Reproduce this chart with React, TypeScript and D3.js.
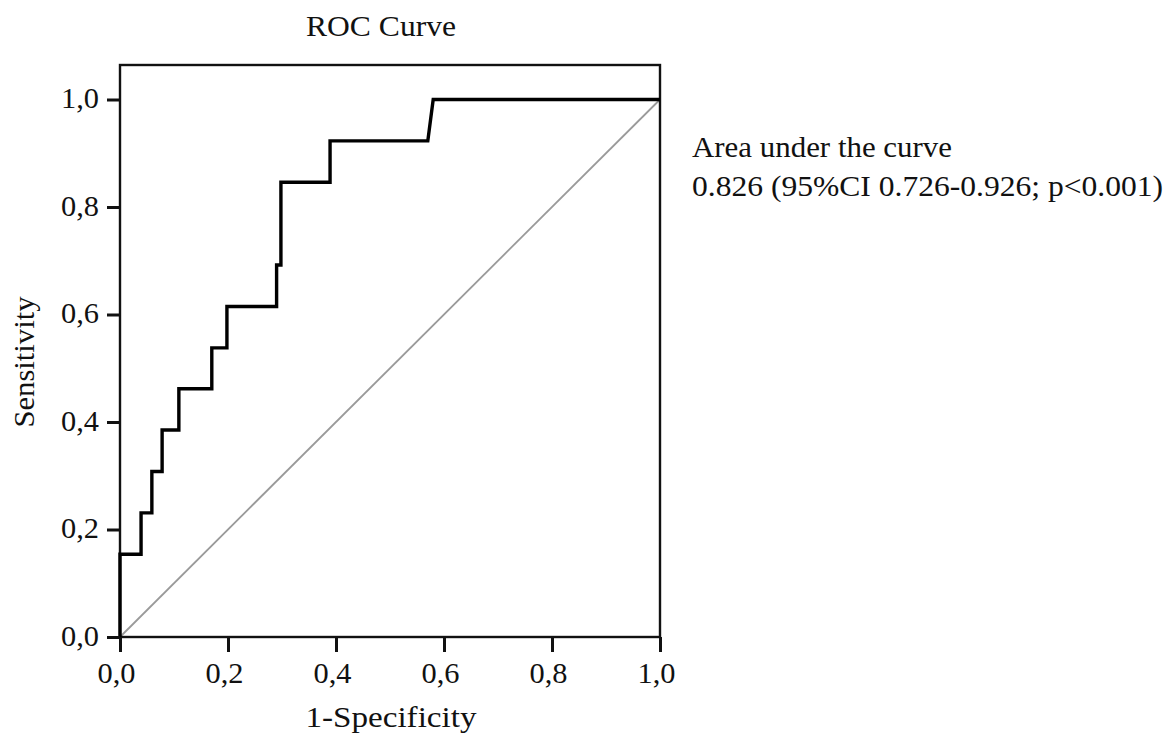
import React, { useEffect, useRef } from 'react';
import * as d3 from 'd3';

// ROC points: 1-specificity, sensitivity
const fpr = [0, 0, 0.039, 0.039, 0.059, 0.059, 0.078, 0.078, 0.109, 0.109, 0.17, 0.17, 0.198, 0.198, 0.29, 0.29, 0.298, 0.298, 0.389, 0.389, 0.57, 0.58, 1];
const tpr = [0, 0.154, 0.154, 0.231, 0.231, 0.308, 0.308, 0.385, 0.385, 0.462, 0.462, 0.538, 0.538, 0.615, 0.615, 0.692, 0.692, 0.846, 0.846, 0.923, 0.923, 1, 1];

const xTicks = [0, 0.2, 0.4, 0.6, 0.8, 1];
const yTicks = [0, 0.2, 0.4, 0.6, 0.8, 1];

const title = 'ROC Curve';
const xLabel = '1-Specificity';
const yLabel = 'Sensitivity';
const aucLines = ['Area under the curve', '0.826 (95%CI 0.726-0.926; p<0.001)'];

const fmt = (v: number) => d3.format('.1f')(v).replace('.', ',');

function App() {
  const ref = useRef<SVGSVGElement>(null);

  useEffect(() => {
    const svg = d3.select(ref.current);
    svg.selectAll('*').remove();

    const font = "'Liberation Serif', 'Times New Roman', Times, serif";
    const left = 120, right = 660, top = 65, bottom = 637;

    const x = d3.scaleLinear().domain([0, 1]).range([left, right]);
    const y = d3.scaleLinear().domain([0, 1]).range([bottom, bottom - 537.5]);

    // diagonal reference
    svg.append('line')
      .attr('x1', x(0)).attr('y1', y(0))
      .attr('x2', x(1)).attr('y2', y(1))
      .attr('stroke', '#9a9a9a')
      .attr('stroke-width', 1.8);

    // frame
    svg.append('rect')
      .attr('x', left).attr('y', top)
      .attr('width', right - left).attr('height', bottom - top)
      .attr('fill', 'none')
      .attr('stroke', '#111')
      .attr('stroke-width', 2.4);

    // roc curve
    const pts = fpr.map((f, i) => [f, tpr[i]] as [number, number]);
    const line = d3.line<[number, number]>()
      .x(d => x(d[0]))
      .y(d => y(d[1]));
    svg.append('path')
      .attr('d', line(pts))
      .attr('fill', 'none')
      .attr('stroke', '#000')
      .attr('stroke-width', 3.4);

    // y axis
    const yAxis = svg.append('g')
      .attr('transform', `translate(${left},0)`)
      .call(d3.axisLeft(y).tickValues(yTicks).tickSize(13).tickPadding(8).tickFormat(d => fmt(+d)));
    yAxis.select('.domain').remove();
    yAxis.selectAll('line').attr('stroke', '#111').attr('stroke-width', 3);
    yAxis.selectAll('text')
      .style('font-family', font)
      .attr('font-size', 29)
      .attr('fill', '#111')
      .attr('dy', '0.28em')
      .attr('textLength', 38)
      .attr('lengthAdjust', 'spacingAndGlyphs');

    // x axis
    const xAxis = svg.append('g')
      .attr('transform', `translate(0,${bottom})`)
      .call(d3.axisBottom(x).tickValues(xTicks).tickSize(15).tickPadding(10).tickFormat(d => fmt(+d)));
    xAxis.select('.domain').remove();
    xAxis.selectAll('line').attr('stroke', '#111').attr('stroke-width', 3);
    xAxis.selectAll('text')
      .style('font-family', font)
      .attr('font-size', 29)
      .attr('fill', '#111')
      .attr('dx', -4)
      .attr('dy', '0.72em')
      .attr('textLength', 38)
      .attr('lengthAdjust', 'spacingAndGlyphs');

    const addText = (t: string, tx: number, ty: number, len: number, anchor: string) =>
      svg.append('text')
        .attr('x', tx).attr('y', ty)
        .style('font-family', font)
        .attr('font-size', 29)
        .attr('fill', '#111')
        .attr('text-anchor', anchor)
        .attr('textLength', len)
        .attr('lengthAdjust', 'spacingAndGlyphs')
        .text(t);

    addText(title, 381, 36, 150, 'middle');
    addText(xLabel, 391, 727, 171, 'middle');
    addText(aucLines[0], 692, 157, 260, 'start');
    addText(aucLines[1], 692, 196, 471, 'start');

    svg.append('text')
      .attr('transform', `translate(34,362) rotate(-90)`)
      .style('font-family', font)
      .attr('font-size', 29)
      .attr('fill', '#111')
      .attr('text-anchor', 'middle')
      .attr('textLength', 131)
      .attr('lengthAdjust', 'spacingAndGlyphs')
      .text(yLabel);
  }, []);

  return (
    <svg ref={ref} width={1175} height={743}
      style={{ position: 'absolute', left: 0, top: 0, background: '#fff' }} />
  );
}

export default App;
